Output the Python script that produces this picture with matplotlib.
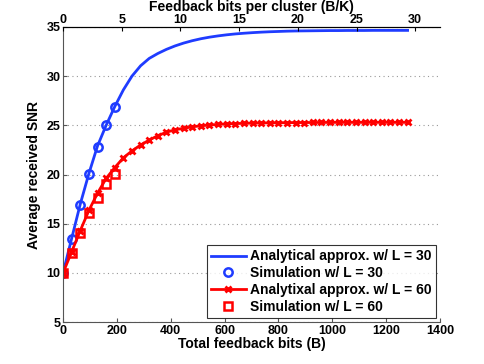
import matplotlib
matplotlib.use("Agg")
import matplotlib.pyplot as plt

plt.rcParams['font.family'] = ['Liberation Sans', 'DejaVu Sans']
plt.rcParams['font.weight'] = 'bold'

# Total feedback bits grid (B)
bits = [0, 32, 64, 96, 128, 160, 192, 224, 256, 288, 320, 352, 384, 416, 448, 480,
        512, 544, 576, 608, 640, 672, 704, 736, 768, 800, 832, 864, 896, 928, 960,
        992, 1024, 1056, 1088, 1120, 1152, 1184, 1216, 1248, 1280]

analytic_L30 = [10.0, 13.5, 17.0, 20.1, 22.9, 25.0, 26.9, 28.6, 30.0, 31.05, 31.8,
                32.3, 32.72, 33.07, 33.36, 33.6, 33.8, 33.96, 34.09, 34.2, 34.29,
                34.36, 34.42, 34.47, 34.51, 34.54, 34.57, 34.59, 34.6, 34.61, 34.62,
                34.63, 34.63, 34.64, 34.64, 34.64, 34.65, 34.65, 34.65, 34.65, 34.65]

analytic_L60 = [10.0, 12.15, 14.3, 16.35, 18.1, 19.6, 20.7, 21.7, 22.4, 23.0, 23.5,
                23.95, 24.3, 24.55, 24.7, 24.85, 24.95, 25.03, 25.1, 25.14, 25.18,
                25.2, 25.22, 25.24, 25.25, 25.26, 25.27, 25.28, 25.28, 25.29, 25.29,
                25.3, 25.3, 25.3, 25.3, 25.3, 25.3, 25.3, 25.3, 25.3, 25.3]

sim_bits = [0, 32, 64, 96, 128, 160, 192]
sim_L30 = [10.0, 13.4, 16.9, 20.1, 22.8, 25.05, 26.9]
sim_L60 = [10.0, 12.0, 14.1, 16.05, 17.6, 19.0, 20.1]

labels = ['Analytical approx. w/ L = 30', 'Simulation w/ L = 30',
          'Analytixal approx. w/ L = 60', 'Simulation w/ L = 60']

fig = plt.figure(figsize=(4.85, 3.64), dpi=100)
ax = fig.add_axes([0.13, 0.115, 0.777, 0.811])

blue = '#1f3cff'
red = '#ff0000'
ax.plot(bits, analytic_L30, color=blue, lw=2.0, label=labels[0])
ax.plot(sim_bits, sim_L30, ls='none', marker='o', ms=6.0, mfc='none', mec=blue,
        mew=1.8, label=labels[1])
ax.plot(bits, analytic_L60, color=red, lw=2.0, marker='x', ms=4.5, mew=2.0,
        label=labels[2])
ax.plot(sim_bits, sim_L60, ls='none', marker='s', ms=5.5, mfc='none', mec=red,
        mew=1.8, label=labels[3])

ax.set_xlim(0, 1400)
ax.set_ylim(5, 35)
ax.set_xticks(range(0, 1401, 200))
ax.set_yticks(range(5, 36, 5))
ax.yaxis.grid(True, ls=(0, (1, 3)), color='#999999', lw=0.8)
ax.tick_params(direction='in', labelsize=9, length=3, color='#555555', pad=2)
for lab in ax.get_xticklabels() + ax.get_yticklabels():
    lab.set_fontweight('bold')
ax.set_xlabel('Total feedback bits (B)', fontsize=10, fontweight='bold', labelpad=0)
ax.set_ylabel('Average received SNR', fontsize=10, fontweight='bold', labelpad=4)
ax.spines['right'].set_visible(False)
for s in ['left', 'bottom']:
    ax.spines[s].set_color('#555555')

ax2 = ax.twiny()
ax2.set_xlim(0, 32.1)
ax2.set_xticks(range(0, 31, 5))
ax2.tick_params(direction='in', labelsize=9, length=3, pad=0.5)
for lab in ax2.get_xticklabels():
    lab.set_fontweight('bold')
ax2.set_xlabel('Feedback bits per cluster (B/K)', fontsize=10, fontweight='bold', labelpad=2.5)
ax2.spines['right'].set_visible(False)
ax2.spines['left'].set_visible(False)
ax2.spines['bottom'].set_visible(False)

leg = ax.legend(loc='lower right', fontsize=10, frameon=True, fancybox=False,
                edgecolor='black', borderaxespad=0.3, handlelength=2.5,
                labelspacing=0.2, borderpad=0.3, handletextpad=0.3)
leg.get_frame().set_linewidth(0.8)
for t in leg.get_texts():
    t.set_fontweight('bold')

fig.savefig('out.png', dpi=100)
